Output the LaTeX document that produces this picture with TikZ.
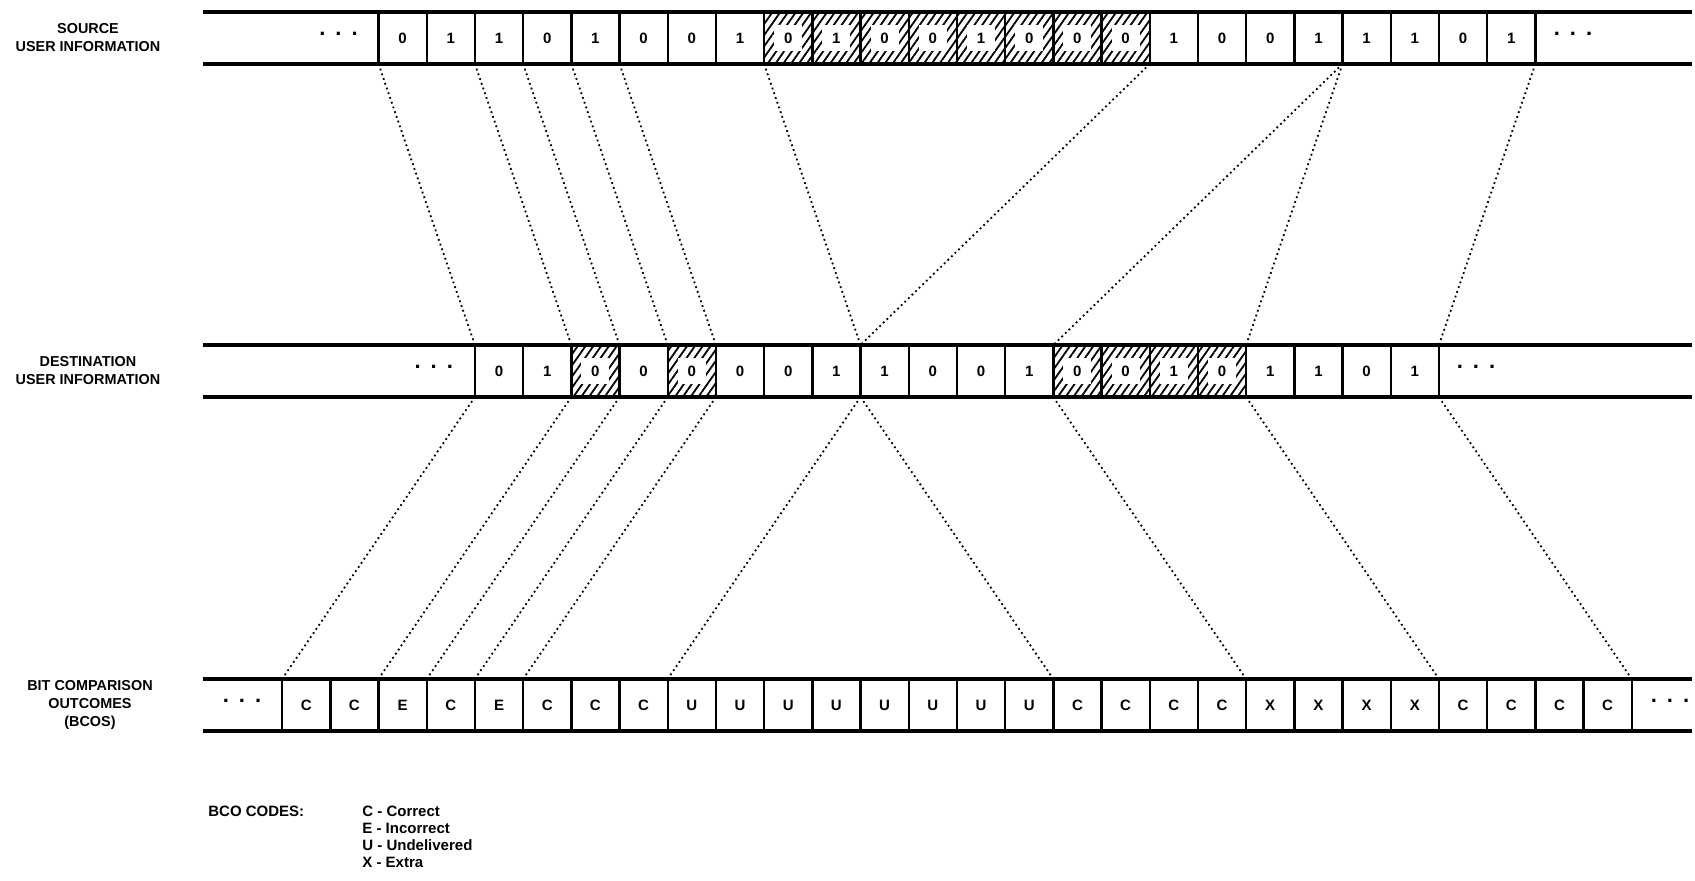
\documentclass[tikz,border=0pt]{standalone}
\usepackage{fontspec}
\setmainfont{Liberation Sans}
\usetikzlibrary{patterns.meta}

\tikzset{
    cell/.style={draw, line width=1.2pt, minimum width=24.1pt, minimum height=26pt,
        inner sep=0pt, outer sep=0pt, font=\fontsize{7.5}{8}\selectfont\bfseries},
    hatchcell/.style={cell, pattern={Lines[angle=55,distance=3.2pt,line width=0.9pt]},
        path picture={\fill[white] ([shift={(-7pt,-6.5pt)}]path picture bounding box.center)
            rectangle ([shift={(7pt,6.5pt)}]path picture bounding box.center);}},
    band/.style={line width=1.6pt},
    link/.style={line width=0.9pt, dash pattern=on 0.9pt off 1.6pt},
    dots/.style={inner sep=0pt, font=\fontsize{11}{11}\selectfont\bfseries},
    rowlabel/.style={align=center, font=\fontsize{7.2}{9}\selectfont\bfseries},
    legend/.style={inner sep=0pt, align=left, font=\fontsize{7.5}{8.5}\selectfont\bfseries},
}

\begin{document}
\begin{tikzpicture}[x=0.5pt,y=-0.5pt]
    \useasboundingbox (0,0) rectangle (1695,881);
    % source row
    \foreach \b/\k [count=\i from 0] in {0/cell,1/cell,1/cell,0/cell,1/cell,0/cell,0/cell,1/cell,
        0/hatchcell,1/hatchcell,0/hatchcell,0/hatchcell,1/hatchcell,0/hatchcell,0/hatchcell,0/hatchcell,
        1/cell,0/cell,0/cell,1/cell,1/cell,1/cell,0/cell,1/cell}
        \node[\k] (s\i) at ({402.6+48.2*\i},38) {\b};
    % destination row
    \foreach \b/\k [count=\i from 0] in {0/cell,1/cell,0/hatchcell,0/cell,0/hatchcell,0/cell,0/cell,1/cell,
        1/cell,0/cell,0/cell,1/cell,0/hatchcell,0/hatchcell,1/hatchcell,0/hatchcell,
        1/cell,1/cell,0/cell,1/cell}
        \node[\k] (d\i) at ({499+48.2*\i},371) {\b};
    % outcome row
    \foreach \c [count=\i from 0] in {C,C,E,C,E,C,C,C,U,U,U,U,U,U,U,U,C,C,C,C,X,X,X,X,C,C,C,C}
        \node[cell] (b\i) at ({306.2+48.2*\i},705) {\c};
    % bands
    \draw[band] (203,12) -- (1692,12) (203,64) -- (1692,64);
    \draw[band] (203,345) -- (1692,345) (203,397) -- (1692,397);
    \draw[band] (203,679) -- (1692,679) (203,731) -- (1692,731);
    % dots
    \node[dots] (sdl) at (338.5,34) {.\hspace{5pt}.\hspace{5pt}.};
    \node[dots] (sdr) at (1573,34) {.\hspace{5pt}.\hspace{5pt}.};
    \node[dots] (ddl) at (433.8,367) {.\hspace{5pt}.\hspace{5pt}.};
    \node[dots] (ddr) at (1476,367) {.\hspace{5pt}.\hspace{5pt}.};
    \node[dots] (bdl) at (242,701) {.\hspace{5pt}.\hspace{5pt}.};
    \node[dots] (bdr) at (1670,701) {.\hspace{5pt}.\hspace{5pt}.};
    % source -> destination
    \foreach \a/\z in {s0.south west/d0.north west, s2.south west/d2.north west,
        s3.south west/d3.north west, s4.south west/d4.north west, s5.south west/d5.north west,
        s8.south west/d8.north west, s16.south west/d8.north west, s20.south west/d12.north west,
        s20.south west/d16.north west, s23.south east/d19.north east}
        \draw[link] (\a) -- (\z);
    % destination -> outcomes
    \foreach \a/\z in {d0.south west/b0.north west, d2.south west/b2.north west,
        d3.south west/b3.north west, d4.south west/b4.north west, d5.south west/b5.north west,
        d8.south west/b8.north west, d8.south west/b16.north west, d12.south west/b20.north west,
        d16.south west/b24.north west, d19.south east/b27.north east}
        \draw[link] (\a) -- (\z);
    % labels
    \node[rowlabel] (srclabel) at (88,38) {SOURCE\\USER INFORMATION};
    \node[rowlabel] (dstlabel) at (88,371) {DESTINATION\\USER INFORMATION};
    \node[rowlabel] (bcolabel) at (90,705) {BIT COMPARISON\\OUTCOMES\\(BCOS)};
    \node[legend, anchor=north west] (bcocodes) at (208,806) {BCO CODES:};
    \node[legend, anchor=north west] (codes) at (362,806) {C - Correct\\E - Incorrect\\U - Undelivered\\X - Extra};
\end{tikzpicture}
\end{document}
